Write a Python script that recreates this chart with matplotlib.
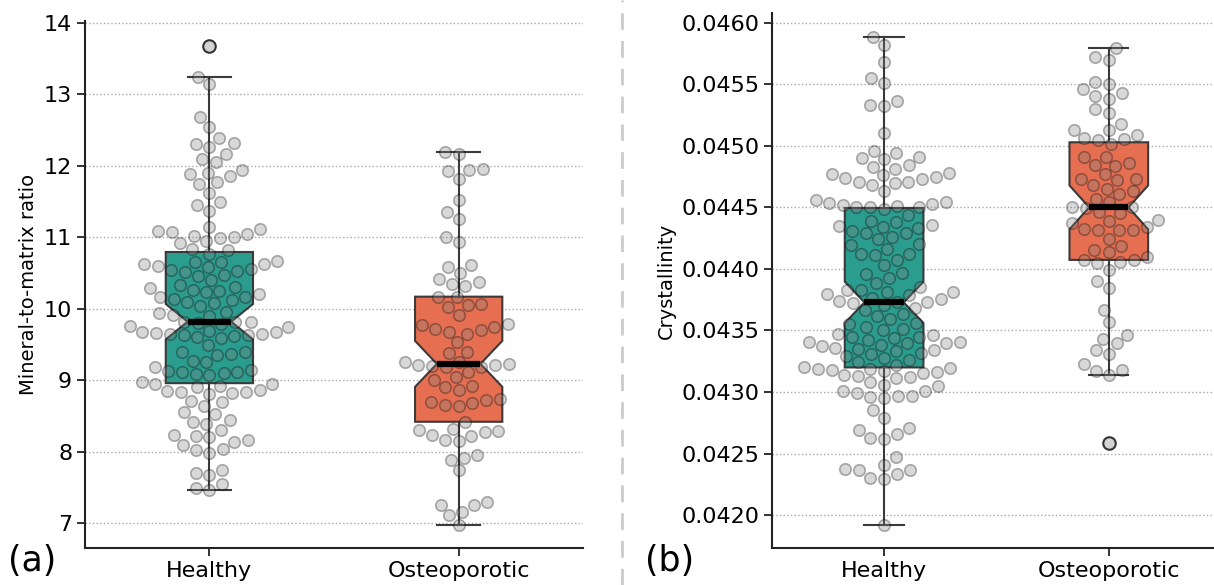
import matplotlib
matplotlib.use("Agg")
import matplotlib.pyplot as plt
import matplotlib.ticker as mticker
from matplotlib.lines import Line2D
import pandas as pd
import seaborn as sns

groups = ["Healthy", "Osteoporotic"]
box_colors = ["#2a9d8f", "#e76f51"]

# (a) mineral-to-matrix ratio, values
mtm_healthy = [
    13.68, 13.24, 13.14, 12.68, 12.55, 12.39, 12.32, 12.30, 12.26, 12.17, 12.09, 12.05,
    11.94, 11.90, 11.88, 11.86, 11.77, 11.74, 11.62, 11.49, 11.45, 11.37, 11.15,
    11.11, 11.09, 11.07, 11.05, 11.02, 11.01, 10.99, 10.95, 10.92,
    10.83, 10.82, 10.77,
    10.67, 10.66, 10.65, 10.63, 10.62, 10.60, 10.58, 10.56, 10.55, 10.53, 10.52, 10.48, 10.46, 10.40,
    10.33, 10.31, 10.29, 10.27, 10.25, 10.23, 10.21, 10.17, 10.16, 10.14, 10.13, 10.10, 10.08, 10.04,
    9.96, 9.94, 9.92, 9.90,
    9.82, 9.815, 9.81, 9.80, 9.79, 9.76, 9.74,
    9.69, 9.68, 9.67, 9.66, 9.65, 9.65, 9.64, 9.63, 9.62, 9.61, 9.59, 9.50,
    9.40, 9.39, 9.37, 9.36, 9.27, 9.25, 9.18, 9.14, 9.13, 9.12, 9.11, 9.10, 9.09, 9.07,
    8.97, 8.95, 8.95, 8.92, 8.90, 8.86, 8.85, 8.84, 8.83, 8.82, 8.81,
    8.71, 8.69, 8.64, 8.55, 8.53, 8.45, 8.41, 8.39, 8.30, 8.23, 8.22, 8.21, 8.16, 8.14,
    8.09, 8.04, 8.02, 7.99, 7.75, 7.71, 7.67, 7.55, 7.50, 7.47,
]
mtm_osteo = [
    12.19, 12.17, 11.95, 11.94, 11.93, 11.82, 11.52, 11.36, 11.26, 11.01, 10.94,
    10.61, 10.59, 10.50, 10.42, 10.37, 10.35, 10.32,
    10.17, 10.16, 10.07, 10.05, 10.03, 9.91,
    9.79, 9.77, 9.75, 9.72, 9.70, 9.68, 9.65, 9.53, 9.40, 9.38,
    9.26, 9.25, 9.23, 9.22, 9.21, 9.20, 9.19, 9.18,
    9.12, 9.05, 9.01, 8.92, 8.90, 8.87,
    8.74, 8.72, 8.70, 8.68, 8.66, 8.64,
    8.42, 8.32, 8.30, 8.29, 8.28, 8.24, 8.22, 8.17, 8.15,
    7.96, 7.91, 7.89, 7.74,
    7.30, 7.26, 7.25, 7.16, 7.11, 6.98,
]

# (b) crystallinity
cryst_healthy = [
    0.04588, 0.04582, 0.04568, 0.04555, 0.04551, 0.04536, 0.04533, 0.04532, 0.04510,
    0.04496, 0.04494, 0.04491, 0.04490, 0.04489,
    0.04484, 0.04483, 0.04481, 0.04478,
    0.04477, 0.04476, 0.04475, 0.044735, 0.04473, 0.04471, 0.044705, 0.04470, 0.044685,
    0.04463,
    0.04456, 0.04454, 0.044535, 0.04453, 0.04452, 0.04451, 0.044505, 0.044502, 0.04450,
    0.04449, 0.04444,
    0.04439, 0.04438, 0.04436, 0.044345, 0.04434, 0.044335, 0.04431, 0.044295, 0.04429, 0.04426,
    0.04424, 0.04420, 0.044195, 0.04416, 0.044125, 0.04412, 0.044115, 0.04407, 0.044035,
    0.043965, 0.043955, 0.043925, 0.043885,
    0.04385, 0.04383, 0.043825, 0.043815, 0.04381, 0.043795, 0.04379, 0.04376, 0.043755,
    0.04374,
    0.04373, 0.043728, 0.043725,
    0.04371, 0.04368, 0.04367, 0.04363, 0.04362, 0.04359, 0.04356, 0.04355, 0.04353,
    0.04351, 0.04350, 0.04347,
    0.04346, 0.04345, 0.043445, 0.043435, 0.043425, 0.04341, 0.043405, 0.04340, 0.043395,
    0.043385,
    0.04337, 0.04336, 0.04335, 0.04334, 0.04333, 0.04332, 0.04331, 0.04329, 0.04328,
    0.04326, 0.04324, 0.04322, 0.043205,
    0.043194, 0.04319, 0.043185, 0.04318, 0.04317, 0.04316, 0.043155, 0.04314, 0.04313,
    0.043125, 0.04311, 0.04308, 0.04306, 0.043045,
    0.04301, 0.043005, 0.04299, 0.04297, 0.042965, 0.04296, 0.04295,
    0.04285, 0.04279,
    0.04271, 0.04269, 0.04266, 0.042625, 0.04262,
    0.04247, 0.04241, 0.042375, 0.04237, 0.042365, 0.042335, 0.04230, 0.042295,
    0.04192,
]
cryst_osteo = [
    0.045792, 0.04572, 0.04570, 0.045515, 0.045505, 0.045458, 0.045425, 0.045406, 0.045384,
    0.045295, 0.045267,
    0.045181, 0.045132, 0.045127, 0.045086, 0.045062, 0.045056, 0.045045, 0.045012,
    0.044912, 0.044906, 0.04486, 0.044844, 0.044838,
    0.044768, 0.044733, 0.044727, 0.044719, 0.044678, 0.044651, 0.044629, 0.044611,
    0.04457, 0.044542,
    0.044505, 0.0445, 0.044498,
    0.044464, 0.044458, 0.044396, 0.04439, 0.044371, 0.044339,
    0.044322, 0.044319, 0.044316, 0.044313, 0.044244,
    0.044182, 0.044155, 0.044135, 0.044094, 0.044076, 0.04407, 0.044057, 0.044051,
    0.043992, 0.043899, 0.043845, 0.043666, 0.043565,
    0.043463, 0.04343, 0.043397, 0.04334, 0.043308, 0.043226, 0.04318, 0.043174, 0.043139,
    0.042583,
]

fig = plt.figure(figsize=(12.14, 5.85), dpi=100)
ax_a = fig.add_axes([0.0698, 0.0627, 0.4107, 0.9019])
ax_b = fig.add_axes([0.6357, 0.0627, 0.3702, 0.9151])


def draw_panel(ax, healthy, osteo, ylabel):
    ax.yaxis.grid(True, linestyle=":", color="#a8a8a8", linewidth=1.0)
    ax.set_axisbelow(True)
    bp = ax.boxplot(
        [healthy, osteo], positions=[0, 1], widths=0.35, notch=True,
        patch_artist=True,
        medianprops=dict(color="black", linewidth=4.5, zorder=4),
        whiskerprops=dict(color="#3a3a3a", linewidth=1.5),
        capprops=dict(color="#3a3a3a", linewidth=1.5),
        boxprops=dict(edgecolor="#3a3a3a", linewidth=1.5),
        flierprops=dict(marker="o", markerfacecolor="#d4d4d4",
                        markeredgecolor="#333333", markersize=9,
                        markeredgewidth=1.5, zorder=5),
    )
    for patch, c in zip(bp["boxes"], box_colors):
        patch.set_facecolor(c)

    df = pd.DataFrame({
        "group": [groups[0]] * len(healthy) + [groups[1]] * len(osteo),
        "value": list(healthy) + list(osteo),
    })
    sns.swarmplot(data=df, x="group", y="value", order=groups, ax=ax,
                  color="gray", size=8.3, alpha=0.3, edgecolor="black",
                  linewidth=1.2, zorder=3)

    ax.set_xticks([0, 1])
    ax.set_xticklabels(groups)
    ax.set_xlim(-0.5, 1.5)
    ax.set_xlabel("")
    ax.set_ylabel(ylabel, fontsize=14)
    for side in ["top", "right"]:
        ax.spines[side].set_visible(False)
    for side in ["left", "bottom"]:
        ax.spines[side].set_linewidth(1.5)
        ax.spines[side].set_color("#222222")
    ax.tick_params(axis="both", labelsize=16, length=5.5, width=1.3,
                   color="#222222", pad=3.5)


draw_panel(ax_a, mtm_healthy, mtm_osteo, "Mineral-to-matrix ratio")
ax_a.set_ylim(6.65, 14.03)
ax_a.set_yticks(range(7, 15))

draw_panel(ax_b, cryst_healthy, cryst_osteo, "Crystallinity")
ax_b.set_ylim(0.04173, 0.046079)
ax_b.yaxis.set_major_locator(mticker.MultipleLocator(0.0005))
ax_b.yaxis.set_major_formatter(mticker.FormatStrFormatter("%.4f"))

# separator between the panels
fig.add_artist(Line2D([622 / 1214, 622 / 1214], [0, 1], transform=fig.transFigure,
                      linestyle="--", color="#cccccc", linewidth=2, dashes=(6, 4)))

fig.text(8 / 1214, 14 / 585, "(a)", fontsize=25, va="baseline")
fig.text(645 / 1214, 14 / 585, "(b)", fontsize=25, va="baseline")

fig.savefig("out.png", dpi=100)
